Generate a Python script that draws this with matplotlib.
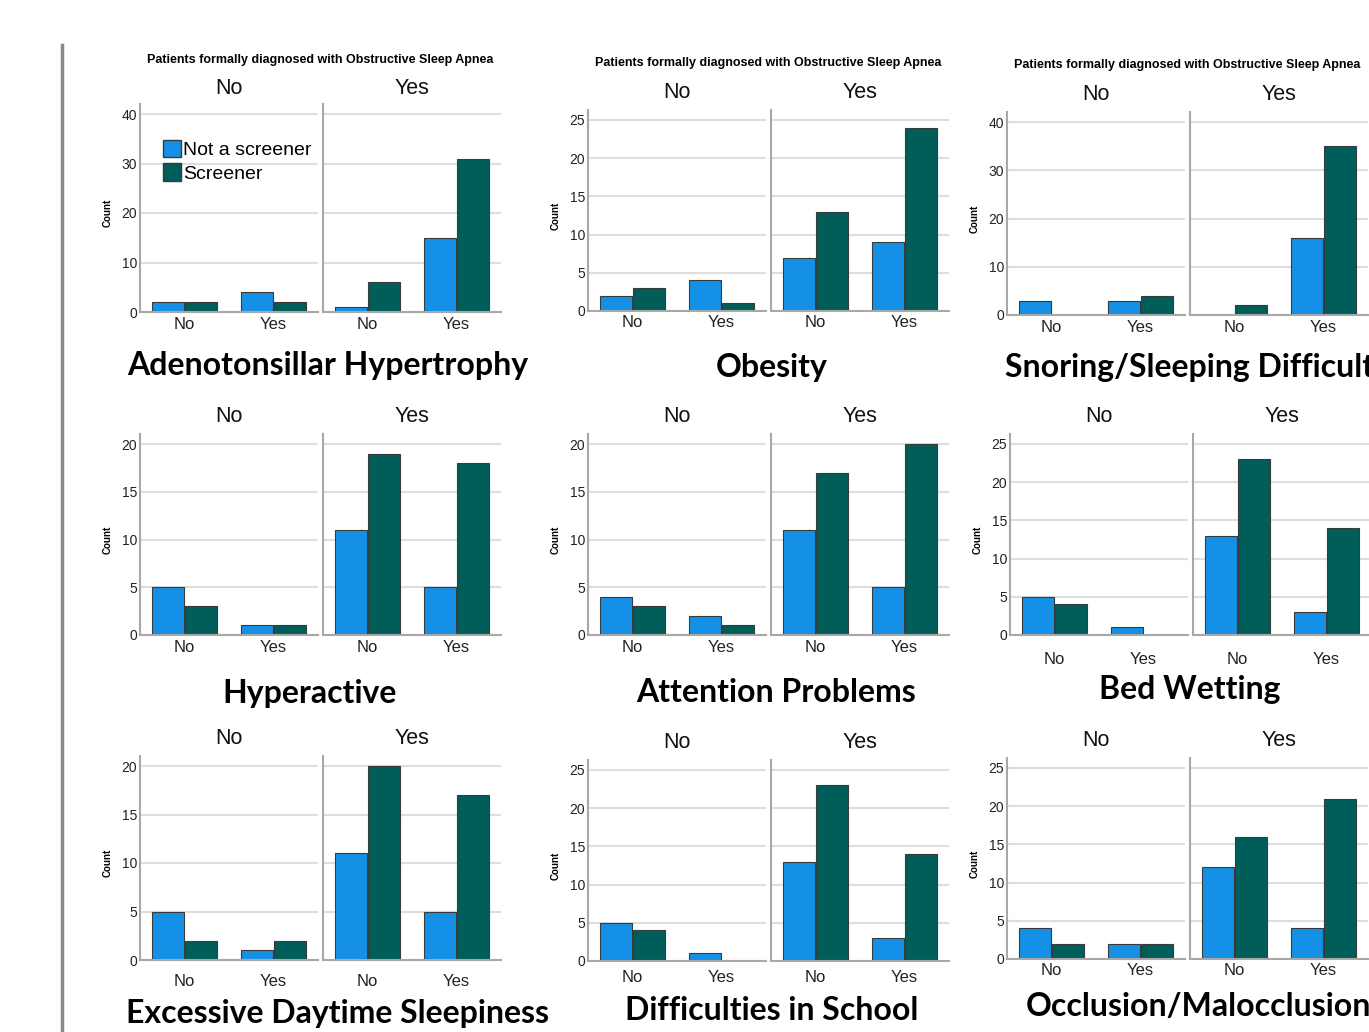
import matplotlib
matplotlib.use("Agg")
import matplotlib.pyplot as plt
from matplotlib.lines import Line2D
from matplotlib.patches import Patch

# conditions shown in the 3x3 collage
titles = ['Adenotonsillar Hypertrophy', 'Obesity', 'Snoring/Sleeping Difficulties',
          'Hyperactive', 'Attention Problems', 'Bed Wetting',
          'Excessive Daytime Sleepiness', 'Difficulties in School', 'Occlusion/Malocclusion']
osa_groups = ['No', 'Yes']
categories = ['No', 'Yes']
series = ['Not a screener', 'Screener']

# counts per panel: [OSA No -> cat No, cat Yes, OSA Yes -> cat No, cat Yes]
not_screener = [
    [2, 4, 1, 15],
    [2, 4, 7, 9],
    [3, 3, 0, 16],
    [5, 1, 11, 5],
    [4, 2, 11, 5],
    [5, 1, 13, 3],
    [5, 1, 11, 5],
    [5, 1, 13, 3],
    [4, 2, 12, 4],
]
screener = [
    [2, 2, 6, 31],
    [3, 1, 13, 24],
    [0, 4, 2, 35],
    [3, 1, 19, 18],
    [3, 1, 17, 20],
    [4, 0, 23, 14],
    [2, 2, 20, 17],
    [4, 0, 23, 14],
    [2, 2, 16, 21],
]
y_max = [40, 25, 40, 20, 20, 25, 20, 25, 25]
y_step = [10, 5, 10, 5, 5, 5, 5, 5, 5]

W, H = 1369, 1032
colors = ['#1490e6', '#005e5a']

# pixel layout: left axis x, zero y, top tick y, facet label y, suptitle y, category label y, title x, title y, title ha
layout = [
    (140, 312, 114, 88, 60, 325, 328, 365, 'center'),
    (588, 311, 120, 93, 63, 323, 772, 367, 'center'),
    (1007, 315, 122, 95, 65, 328, 1005, 367, 'left'),
    (140, 635, 444, 417, None, 648, 310, 694, 'center'),
    (588, 635, 444, 417, None, 648, 776, 692, 'center'),
    (1010, 635, 444, 417, None, 660, 1190, 690, 'center'),
    (140, 960, 766, 739, None, 982, 337, 1013, 'center'),
    (588, 961, 770, 742, None, 978, 772, 1010, 'center'),
    (1007, 959, 768, 740, None, 971, 1198, 1007, 'center'),
]
sub_w, gap = 178, 5


def fx(x):
    return x / W


def fy(y):
    return 1 - y / H


plt.rcParams['font.family'] = ['Liberation Sans', 'DejaVu Sans']
fig = plt.figure(figsize=(W / 100, H / 100), dpi=100)

# gray separator line on the left
fig.add_artist(Line2D([fx(62), fx(62)], [fy(45), 0], color='#8a8a8a', lw=2.5))

for i, title in enumerate(titles):
    left, zero, top, facet_y, sup_y, cat_y, tx, ty, tha = layout[i]
    h = (zero - top) * 1.05
    for g, grp in enumerate(osa_groups):
        x0 = left + g * (sub_w + gap)
        ax = fig.add_axes([fx(x0), fy(zero), sub_w / W, h / H])
        vals_a = not_screener[i][2 * g:2 * g + 2]
        vals_b = screener[i][2 * g:2 * g + 2]
        pos = range(len(categories))
        ax.bar([p - 0.19 for p in pos], vals_a, width=0.36, color=colors[0],
               edgecolor='#3a3a3a', linewidth=0.8)
        ax.bar([p + 0.19 for p in pos], vals_b, width=0.36, color=colors[1],
               edgecolor='#3a3a3a', linewidth=0.8)
        ax.set_xlim(-0.5, 1.5)
        ax.set_ylim(0, y_max[i] * 1.05)
        ax.set_yticks(range(0, y_max[i] + 1, y_step[i]))
        ax.set_xticks(list(pos))
        ax.set_xticklabels(categories, fontsize=12, color='#222222')
        ax.tick_params(length=0)
        ax.tick_params(axis='x', pad=(cat_y - zero - 8) / 1.39)
        ax.tick_params(axis='y', pad=2, labelsize=10, labelcolor='#222222')
        if g == 1:
            ax.set_yticklabels([])
        ax.set_axisbelow(True)
        ax.grid(axis='y', color='#dedede', lw=1.5)
        for s in ['top', 'right']:
            ax.spines[s].set_visible(False)
        for s in ['left', 'bottom']:
            ax.spines[s].set_color('#a8a8a8')
            ax.spines[s].set_linewidth(1.5)
        fig.text(fx(x0 + sub_w / 2), fy(facet_y), grp, fontsize=15.5,
                 ha='center', va='center', color='#111111')
    fig.text(fx(left - 32), fy((zero + top) / 2), 'Count', fontsize=7,
             fontweight='bold', rotation=90, ha='center', va='center')
    if sup_y is not None:
        fig.text(fx(left + sub_w + gap / 2), fy(sup_y),
                 'Patients formally diagnosed with Obstructive Sleep Apnea',
                 fontsize=9, fontweight='bold', ha='center', va='center')
    fig.text(fx(tx), fy(ty), title, fontsize=23, fontweight='bold',
             family=['Lato', 'DejaVu Sans'], ha=tha, va='center')

handles = [Patch(facecolor=c, edgecolor='#3a3a3a', linewidth=1) for c in colors]
fig.legend(handles, series, loc='upper left', bbox_to_anchor=(fx(163), fy(140)),
           frameon=False, fontsize=14, handlelength=0.9, handleheight=1.0,
           handletextpad=0.15, labelspacing=0.2, borderpad=0, borderaxespad=0)

fig.savefig('out.png', dpi=100)
